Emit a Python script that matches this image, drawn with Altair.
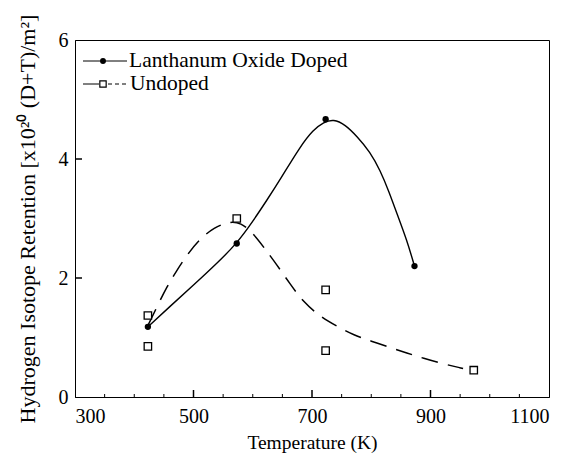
import altair as alt
import pandas as pd

# Measured data
doped_T = [423, 573, 723, 873]
doped_R = [1.18, 2.58, 4.67, 2.20]
undoped_T = [423, 423, 573, 723, 723, 973]
undoped_R = [1.37, 0.85, 3.00, 1.80, 0.78, 0.45]

# Hand-drawn guide curves
doped_fit_T = [423, 460, 500, 540, 573, 600, 624, 646, 680, 702, 720, 736, 756, 776, 798, 815, 830, 843, 860, 873]
doped_fit_R = [1.18, 1.52, 1.88, 2.25, 2.58, 2.95, 3.31, 3.65, 4.21, 4.49, 4.62, 4.67, 4.58, 4.38, 4.12, 3.81, 3.45, 3.09, 2.64, 2.20]
undoped_fit_T = [424, 440, 455, 470, 490, 510, 535, 560, 580, 600, 620, 640, 663, 685, 714, 740, 770, 800, 832, 860, 888, 920, 955]
undoped_fit_R = [1.22, 1.55, 1.85, 2.10, 2.40, 2.65, 2.85, 2.95, 2.93, 2.76, 2.50, 2.23, 1.90, 1.60, 1.35, 1.20, 1.04, 0.94, 0.83, 0.74, 0.65, 0.56, 0.48]

x_major = [300, 500, 700, 900, 1100]
x_minor = [350, 400, 450, 550, 600, 650, 750, 800, 850, 950, 1000, 1050]
y_major = [0, 2, 4, 6]

legend_labels = ["Lanthanum Oxide Doped", "Undoped"]

W, H = 474, 357
FONT = "Liberation Serif"

xs = alt.Scale(domain=[300, 1100], nice=False, zero=False)
ys = alt.Scale(domain=[0, 6], nice=False)

x_axis = alt.Axis(values=x_major, ticks=False, grid=False, labelFont=FONT, labelFontSize=20, format="d",
                  labelColor="black", labelPadding=9, domainColor="black",
                  title="Temperature (K)", titleFont=FONT, titleFontSize=19.5,
                  titleFontWeight="normal", titleColor="black", titlePadding=7)
y_axis = alt.Axis(values=y_major, ticks=False, grid=False, labelFont=FONT, labelFontSize=20,
                  labelColor="black", labelPadding=7, domainColor="black", format="d",
                  title="Hydrogen Isotope Retention [x10²⁰ (D+T)/m²]", titleFont=FONT,
                  titleFontSize=22, titleFontWeight="normal", titleColor="black", titlePadding=19)

doped_df = pd.DataFrame({"T": doped_T, "R": doped_R})
undoped_df = pd.DataFrame({"T": undoped_T, "R": undoped_R})
dfit = pd.DataFrame({"T": doped_fit_T, "R": doped_fit_R, "o": range(len(doped_fit_T))})
ufit = pd.DataFrame({"T": undoped_fit_T, "R": undoped_fit_R, "o": range(len(undoped_fit_T))})

X = alt.X("T:Q", scale=xs)
Y = alt.Y("R:Q", scale=ys)

doped_line = alt.Chart(dfit).mark_line(color="black", strokeWidth=1.4, interpolate="basis").encode(
    x=alt.X("T:Q", scale=xs, axis=x_axis), y=alt.Y("R:Q", scale=ys, axis=y_axis), order="o:Q")
undoped_line = alt.Chart(ufit).mark_line(color="black", strokeWidth=1.5, strokeDash=[17, 10],
                                         interpolate="basis").encode(x=X, y=Y, order="o:Q")
doped_pts = alt.Chart(doped_df).mark_point(shape="circle", filled=True, color="black", size=40, opacity=1).encode(
    x=X, y=Y)
undoped_pts = alt.Chart(undoped_df).mark_point(shape="square", filled=False, color="black", size=55,
                                               strokeWidth=1.3, opacity=1, fill="white", fillOpacity=1).encode(
    x=X, y=Y)

# inward ticks
xmaj = alt.Chart(pd.DataFrame({"T": x_major[1:-1]})).mark_rule(color="black", strokeWidth=1.5).encode(
    x=X, y=alt.value(H), y2=alt.value(H - 7))
xmin = alt.Chart(pd.DataFrame({"T": x_minor})).mark_rule(color="black", strokeWidth=1).encode(
    x=X, y=alt.value(H), y2=alt.value(H - 3))
ymaj = alt.Chart(pd.DataFrame({"R": y_major[1:-1]})).mark_rule(color="black", strokeWidth=1.5).encode(
    y=Y, x=alt.value(0), x2=alt.value(7))

# legend
one = pd.DataFrame({"a": [0]})
leg1_line = alt.Chart(one).mark_rule(color="black", strokeWidth=1).encode(
    x=alt.value(8), x2=alt.value(52), y=alt.value(21))
leg1_pt = alt.Chart(one).mark_point(shape="circle", filled=True, color="black", size=35, opacity=1).encode(
    x=alt.value(28), y=alt.value(21))
leg2_line = alt.Chart(one).mark_rule(color="black", strokeWidth=1).encode(
    x=alt.value(8), x2=alt.value(24), y=alt.value(44))
leg2_dash = alt.Chart(one).mark_rule(color="black", strokeWidth=1, strokeDash=[4, 3]).encode(
    x=alt.value(33), x2=alt.value(52), y=alt.value(44))
leg2_pt = alt.Chart(one).mark_point(shape="square", filled=False, color="black", size=40,
                                    strokeWidth=1.2, opacity=1).encode(
    x=alt.value(28), y=alt.value(44))
leg_text1 = alt.Chart(pd.DataFrame({"label": [legend_labels[0]]})).mark_text(
    align="left", baseline="middle", font=FONT, fontSize=21.5, color="black").encode(
    x=alt.value(54), y=alt.value(21), text="label:N")
leg_text2 = alt.Chart(pd.DataFrame({"label": [legend_labels[1]]})).mark_text(
    align="left", baseline="middle", font=FONT, fontSize=21.5, color="black").encode(
    x=alt.value(55), y=alt.value(44), text="label:N")

chart = alt.layer(doped_line, undoped_line, xmaj, xmin, ymaj, doped_pts, undoped_pts,
                  leg1_line, leg1_pt, leg2_line, leg2_dash, leg2_pt, leg_text1, leg_text2).properties(
    width=W, height=H, autosize="none",
    padding={"left": 67, "top": 32, "right": 24, "bottom": 57},
    background="white"
).configure_view(stroke="black", strokeWidth=1)

chart.save("out.html", embed_options={"renderer": "svg", "actions": False})
